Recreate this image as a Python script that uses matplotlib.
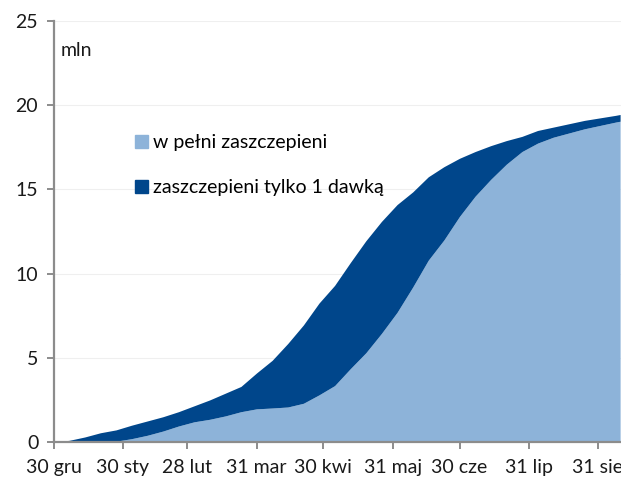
import numpy as np
import pandas as pd
import matplotlib
matplotlib.use("Agg")
import matplotlib.pyplot as plt
import matplotlib.dates as mdates
from matplotlib.patches import Patch

plt.rcParams['font.family'] = ['Lato', 'DejaVu Sans']

# ---------------- Data (mln osób, tygodniowo od 30 gru 2020) ----------------
start = pd.Timestamp('2020-12-30')
days = list(range(0, 253, 7)) + [254]
dates = [start + pd.Timedelta(days=d) for d in days]

# co najmniej jedna dawka (wierzch ciemnego pola)
total = [0.0, 0.1, 0.3, 0.55, 0.72, 1.0, 1.25, 1.5, 1.8, 2.15,
         2.5, 2.9, 3.3, 4.1, 4.85, 5.85, 6.95, 8.25, 9.3, 10.65,
         11.95, 13.1, 14.1, 14.85, 15.75, 16.35, 16.85, 17.25, 17.6, 17.9,
         18.15, 18.5, 18.7, 18.9, 19.1, 19.25, 19.4, 19.45]
# w pełni zaszczepieni
full = [0.0, 0.0, 0.0, 0.0, 0.05, 0.2, 0.4, 0.65, 0.95, 1.2,
        1.35, 1.55, 1.8, 1.97, 2.02, 2.08, 2.3, 2.8, 3.35, 4.35,
        5.3, 6.45, 7.7, 9.2, 10.8, 12.0, 13.4, 14.6, 15.6, 16.5,
        17.25, 17.75, 18.1, 18.35, 18.6, 18.8, 19.0, 19.05]

tick_dates = ['2020-12-30', '2021-01-30', '2021-02-28', '2021-03-31', '2021-04-30',
              '2021-05-31', '2021-06-30', '2021-07-31', '2021-08-31']
tick_labels = ['30 gru', '30 sty', '28 lut', '31 mar', '30 kwi',
               '31 maj', '30 cze', '31 lip', '31 sie']

light = '#8db3d9'
dark = '#00468b'
axis_gray = '#8c8c8c'
fs = 14

# ---------------- Plot ----------------
fig = plt.figure(figsize=(6.21, 4.79), dpi=100)
ax = fig.add_axes([0.0862, 0.0772, 0.9138, 0.8789])

x = mdates.date2num(dates)
ax.fill_between(x, 0, full, color=light, lw=0)
ax.fill_between(x, full, total, color=dark, lw=0)

ax.set_xlim(mdates.date2num(start), mdates.date2num(start + pd.Timedelta(days=254.4)))
ax.set_ylim(0, 25)
ax.set_yticks([0, 5, 10, 15, 20, 25])
ax.set_xticks(mdates.date2num(pd.to_datetime(tick_dates)))
ax.set_xticklabels(tick_labels)

ax.grid(axis='y', color='#efefef', lw=0.8)
ax.set_axisbelow(True)
for s in ['top', 'right']:
    ax.spines[s].set_visible(False)
for s in ['left', 'bottom']:
    ax.spines[s].set_color(axis_gray)
    ax.spines[s].set_linewidth(1.6)
ax.tick_params(axis='both', colors=axis_gray, width=1.4, length=5,
               labelcolor='#1a1a1a', labelsize=fs)
ax.tick_params(axis='y', pad=6)
ax.tick_params(axis='x', pad=7)

ax.text(0.012, 0.95, 'mln', transform=ax.transAxes, fontsize=fs,
        color='#1a1a1a', va='top', ha='left')

handles = [Patch(color=light, label='w pełni zaszczepieni'),
           Patch(color=dark, label='zaszczepieni tylko 1 dawką')]
ax.legend(handles=handles, loc='upper left', bbox_to_anchor=(0.13, 0.75),
          frameon=False, fontsize=fs, handlelength=0.65, handleheight=0.65,
          handletextpad=0.25, labelspacing=1.45, borderaxespad=0)

fig.savefig('out.png', dpi=100)
